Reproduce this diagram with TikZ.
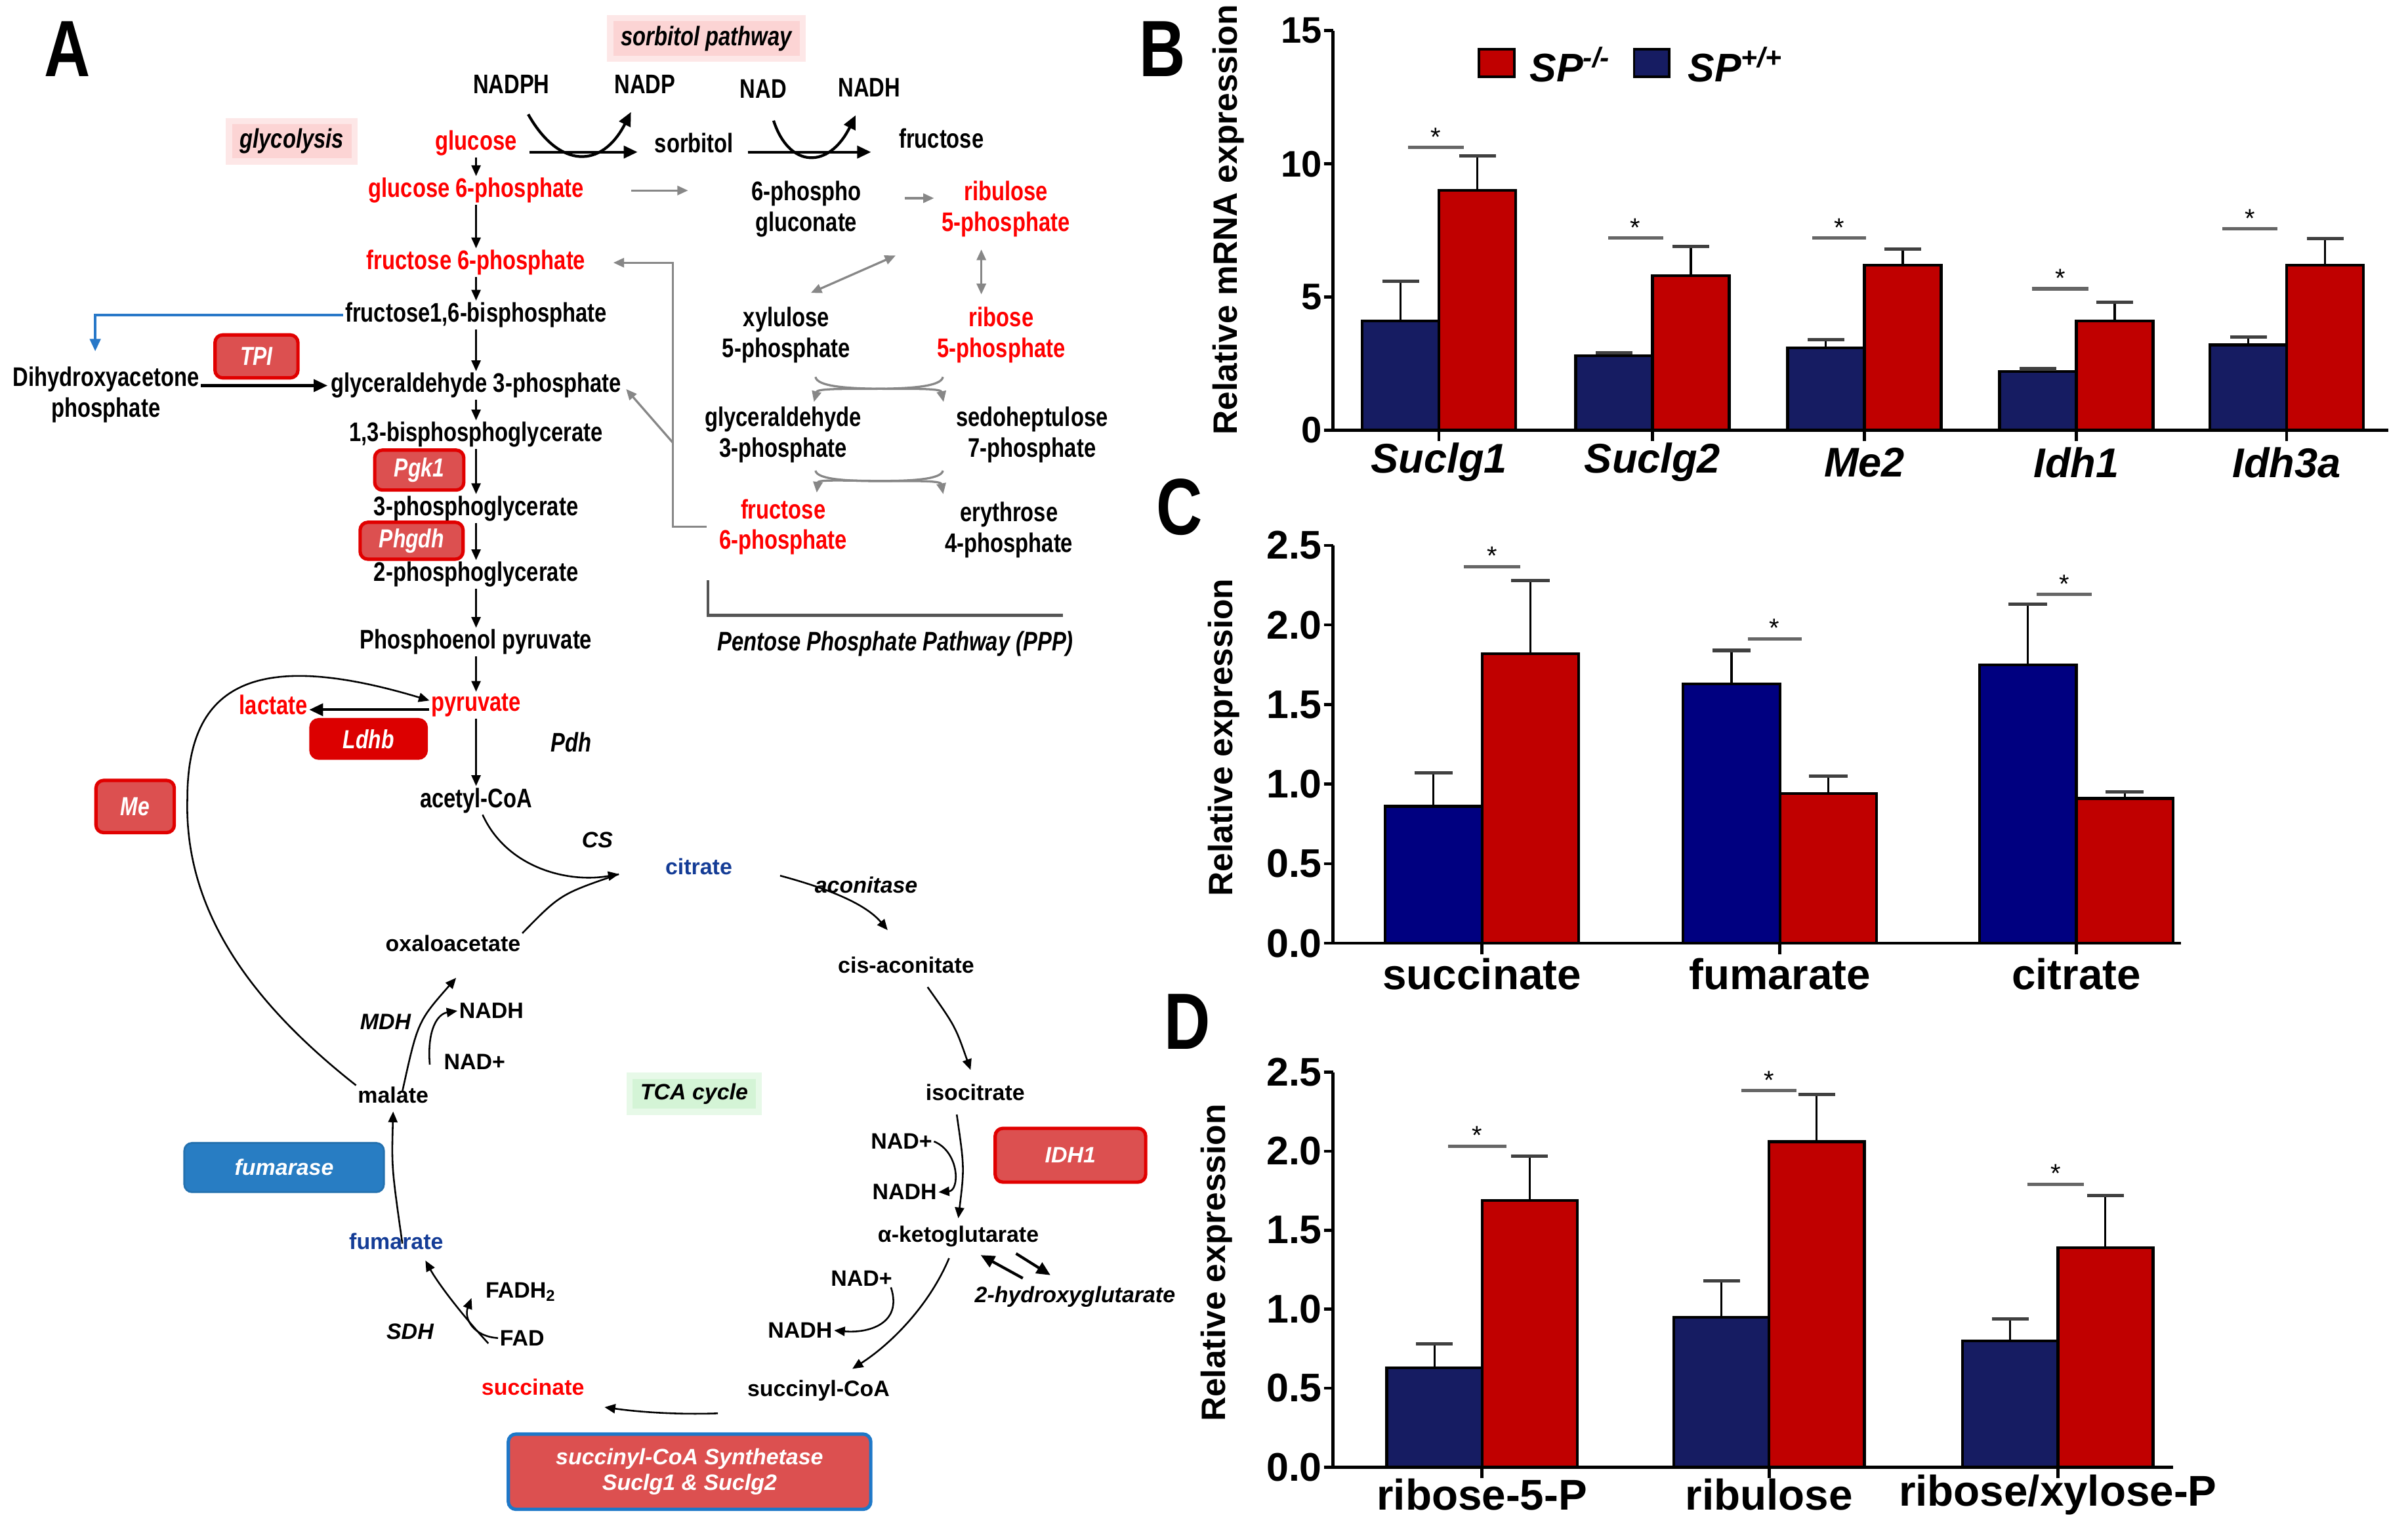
\documentclass[tikz,border=0pt]{standalone}
\usepackage{fontspec}
\setmainfont{Liberation Sans}
\newfontfamily\narrowsans[FakeStretch=0.8]{Liberation Sans}
\usetikzlibrary{positioning,arrows.meta}
\definecolor{metred}{RGB}{255,0,0}
\definecolor{metblue}{RGB}{20,60,150}
\definecolor{enzfill}{RGB}{220,80,80}
\definecolor{enzline}{RGB}{225,0,0}
\definecolor{ldhfill}{RGB}{220,0,0}
\definecolor{fumfill}{RGB}{40,125,195}
\definecolor{sucline}{RGB}{30,120,200}
\definecolor{arrblue}{RGB}{40,120,200}
\definecolor{pppgray}{RGB}{135,135,135}
\definecolor{brgray}{RGB}{85,85,85}
\definecolor{glowpink}{RGB}{252,212,212}
\definecolor{glowgreen}{RGB}{212,244,214}
\definecolor{barred}{RGB}{192,0,0}
\definecolor{barblue}{RGB}{0,0,128}
\definecolor{barnavy}{RGB}{22,28,98}

\begin{document}
\begin{tikzpicture}[x=1pt, y=-1pt, on grid,
  met/.style={font=\narrowsans\bfseries\fontsize{17.5}{20}\selectfont, inner sep=1pt, align=center},
  redmet/.style={met, text=metred},
  tca/.style={font=\bfseries\fontsize{14.5}{17}\selectfont, inner sep=1pt},
  bluetca/.style={tca, text=metblue},
  redtca/.style={tca, text=metred},
  enzlbl/.style={font=\bfseries\itshape\fontsize{14.5}{17}\selectfont, inner sep=1pt},
  pathlbl/.style={font=\narrowsans\bfseries\itshape\fontsize{17.5}{20}\selectfont, inner sep=1pt},
  glowbox/.style={fill=glowpink, draw=glowpink!55, line width=4pt, inner xsep=7pt, inner ysep=5pt},
  enzbox/.style={font=\narrowsans\bfseries\itshape\fontsize{17}{20}\selectfont, text=white, fill=enzfill, draw=enzline, line width=2.2pt, rounded corners=5pt, inner sep=0pt},
  bigbox/.style={enzbox, font=\bfseries\itshape\fontsize{14.5}{17}\selectfont, align=center},
  rxn/.style={-{Triangle[length=7pt,width=6pt]}, line width=1.1pt},
  rxnbold/.style={-{Triangle[length=9pt,width=8pt]}, line width=1.8pt},
  pparr/.style={-{Triangle[length=7pt,width=6pt]}, line width=1.4pt, draw=pppgray},
  ppboth/.style={pparr, {Triangle[length=7pt,width=6pt]}-{Triangle[length=7pt,width=6pt]}},
  bluearr/.style={-{Triangle[length=8pt,width=7pt]}, line width=1.5pt, draw=arrblue},
  panel/.style={font=\narrowsans\bfseries\fontsize{52}{52}\selectfont, inner sep=0pt},
  axisl/.style={line width=2pt},
  bluebar/.style={fill=barnavy, draw=black, line width=1.8pt},
  bluebarC/.style={fill=barblue, draw=black, line width=1.8pt},
  redbar/.style={fill=barred, draw=black, line width=1.8pt},
  errbar/.style={line width=1.3pt},
  errcap/.style={line width=2.2pt, draw=black!75},
  sigline/.style={line width=2.2pt, draw=black!60},
  star/.style={font=\fontsize{17}{17}\selectfont, inner sep=0pt},
  ticklbl/.style={font=\bfseries\fontsize{24}{24}\selectfont, anchor=east, inner sep=1pt},
  ticklblC/.style={ticklbl, font=\bfseries\fontsize{26}{26}\selectfont},
  axtitle/.style={font=\bfseries\fontsize{22}{22}\selectfont, rotate=90, inner sep=0pt},
  catB/.style={font=\bfseries\itshape\fontsize{27}{27}\selectfont, inner sep=0pt},
  catC/.style={font=\bfseries\fontsize{28}{28}\selectfont, inner sep=0pt},
  legtxt/.style={font=\bfseries\itshape\fontsize{26}{26}\selectfont, anchor=west, inner sep=0pt}]
\useasboundingbox (0,0) rectangle (1568,993);

\node(panelA) [panel] at (44,32) {A};
\node(sorbpath) [pathlbl, glowbox] at (460,25) {sorbitol pathway};
\node(glyco)    [pathlbl, glowbox] at (190,92) {glycolysis};
\node(nadph) [met] at (333,55) {NADPH};
\node(nadp)  [met] at (420,55) {NADP};
\node(nad)   [met] at (497,58) {NAD};
\node(nadh)  [met] at (566,57) {NADH};
\node(sorbitol) [met] at (452,93) {sorbitol};
\node(fructose) [met] at (613,90) {fructose};

\node(glucose) [redmet] at (310,93) {glucose};
\node(g6p)   [redmet, below=31pt of glucose] {glucose 6-phosphate};
\node(f6p)   [redmet, below=47pt of g6p] {fructose 6-phosphate};
\node(f16bp) [met, below=34pt of f6p] {fructose1,6-bisphosphate};
\node(g3p)   [met, below=46pt of f16bp] {glyceraldehyde 3-phosphate};
\node(bpg)   [met, below=32pt of g3p] {1,3-bisphosphoglycerate};
\node(pg3)   [met, below=48pt of bpg] {3-phosphoglycerate};
\node(pg2)   [met, below=43pt of pg3] {2-phosphoglycerate};
\node(pep)   [met, below=44pt of pg2] {Phosphoenol pyruvate};
\node(pyr)   [redmet, below=41pt of pep] {pyruvate};
\node(acoa)  [met, below=62pt of pyr] {acetyl-CoA};
\node(lactate) [redmet, left=132pt of pyr] {lactate};
\node(dhap)  [met] at (69,257) {Dihydroxyacetone\\phosphate};

\node(tpi)   [enzbox, minimum width=54pt, minimum height=28pt] at (167,232) {TPI};
\node(pgk)   [enzbox, minimum width=58pt, minimum height=26pt] at (273,306) {Pgk1};
\node(phgdh) [enzbox, minimum width=67pt, minimum height=24pt] at (268,352) {Phgdh};
\node(ldhb)  [enzbox, fill=ldhfill, draw=ldhfill, minimum width=75pt, minimum height=25pt] at (240,481) {Ldhb};
\node(me)    [enzbox, minimum width=51pt, minimum height=34pt] at (88,525) {Me};
\node(pdh)   [pathlbl] at (372,483) {Pdh};

\node(pgluc) [met] at (525,136) {6-phospho\\gluconate};
\node(ru5p)  [redmet] at (655,136) {ribulose\\5-phosphate};
\node(xu5p)  [met] at (512,218) {xylulose\\5-phosphate};
\node(r5p)   [redmet] at (652,218) {ribose\\5-phosphate};
\node(g3pb)  [met] at (510,283) {glyceraldehyde\\3-phosphate};
\node(s7p)   [met] at (672,283) {sedoheptulose\\7-phosphate};
\node(f6pb)  [redmet] at (510,343) {fructose\\6-phosphate};
\node(e4p)   [met] at (657,345) {erythrose\\4-phosphate};
\node(pppname) [pathlbl] at (583,419) {Pentose Phosphate Pathway (PPP)};
\coordinate(pppx) at (438,0);
\coordinate(pppbr) at (438,288);

\node(citrate) [bluetca] at (455,564) {citrate};
\node(oaa)     [tca] at (295,614) {oxaloacetate};
\node(cisacon) [tca] at (590,628) {cis-aconitate};
\node(isocit)  [tca] at (635,711) {isocitrate};
\node(akg)     [tca] at (624,805) {α-ketoglutarate};
\node(hg2)     [enzlbl] at (700,844) {2-hydroxyglutarate};
\node(succoa)  [tca] at (533,905) {succinyl-CoA};
\node(succ)    [redtca] at (347,903) {succinate};
\node(fum)     [bluetca] at (258,808) {fumarate};
\node(mal)     [tca] at (256,713) {malate};
\node(nadA)  [tca] at (587,743) {NAD+};
\node(nadhA) [tca] at (589,776) {NADH};
\node(nadB)  [tca] at (561,832) {NAD+};
\node(nadhB) [tca] at (521,866) {NADH};
\node(fadh)  [tca] at (339,841) {FADH\textsubscript{2}};
\node(fad)   [tca] at (340,871) {FAD};
\node(nadhC) [tca] at (320,658) {NADH};
\node(nadC)  [tca] at (309,691) {NAD+};
\node(cs)     [enzlbl] at (389,547) {CS};
\node(aconit) [enzlbl] at (564,576) {aconitase};
\node(mdh)    [enzlbl] at (251,665) {MDH};
\node(sdh)    [enzlbl] at (267,867) {SDH};
\node(tcacyc) [enzlbl, glowbox, fill=glowgreen, draw=glowgreen!55] at (452,712) {TCA cycle};
\node(idh)    [bigbox, minimum width=98pt, minimum height=35pt] at (697,752) {IDH1};
\node(fumarase) [bigbox, fill=fumfill, draw=fumfill!90!black, line width=1.2pt, minimum width=130pt, minimum height=32pt] at (185,760) {fumarase};
\node(sucsyn) [bigbox, draw=sucline, minimum width=236pt, minimum height=49pt] at (449,958) {succinyl-CoA Synthetase\\Suclg1 \& Suclg2};
\coordinate(csin) at (403,569);

\draw[rxnbold, shorten <=7pt, shorten >=10pt] ([yshift=-6pt]glucose.east) -- ([yshift=-6pt]glucose.east -| sorbitol.west);
\draw[rxnbold, shorten <=8pt, shorten >=17pt] ([yshift=-6pt]sorbitol.east) -- ([yshift=-6pt]sorbitol.east -| fructose.west);
\draw[rxnbold, shorten <=14pt, shorten >=12pt] (nadph) .. controls (364,110) and (392,110) .. (nadp);
\draw[rxnbold, shorten <=14pt, shorten >=12pt] (nad) .. controls (514,110) and (540,110) .. (nadh);
\draw[rxn](glucose) -- (g6p);
\draw[rxn](g6p) -- (f6p);
\draw[rxn](f6p) -- (f16bp);
\draw[rxn](f16bp) -- (g3p);
\draw[rxn](g3p) -- (bpg);
\draw[rxn](bpg) -- (pg3);
\draw[rxn](pg3) -- (pg2);
\draw[rxn](pg2) -- (pep);
\draw[rxn](pep) -- (pyr);
\draw[rxn](pyr) -- (acoa);
\draw[rxnbold]([yshift=-3pt]pyr.west) -- ([yshift=-3pt]pyr.west -| lactate.east);
\draw[rxn](mal.north west) .. controls (160,650) and (120,590) .. (122,520) .. controls (122,450) and (160,420) .. ([yshift=3pt]pyr.west);
\draw[bluearr](f16bp.west) -| ([xshift=-7pt,yshift=9pt]dhap.north);
\draw[rxnbold, shorten >=1pt](dhap.east |- g3p.west) -- (g3p.west);

\draw[pparr, shorten <=30pt, shorten >=40pt] (g6p.east) -- (g6p.east -| pgluc.west);
\draw[pparr, shorten <=27pt, shorten >=4pt] ([yshift=7pt]pgluc.east) -- ([yshift=7pt]pgluc.east -| ru5p.west);
\draw[ppboth] ([shift={(-29pt,-11pt)}]ru5p.south west) -- ([shift={(16pt,8pt)}]xu5p.north);
\draw[ppboth] ([xshift=-16pt,yshift=-7pt]ru5p.south) -- ([xshift=-13pt,yshift=7pt]r5p.north);
\draw[pparr] ([xshift=19pt,yshift=-8pt]xu5p.south) .. controls (533,258) and (612,250) .. ([xshift=-7pt,yshift=2pt]s7p.north west);
\draw[pparr] ([xshift=-38pt,yshift=-8pt]r5p.south) .. controls (612,258) and (533,250) .. ([xshift=20pt,yshift=2pt]g3pb.north);
\draw[pparr] ([xshift=21pt,yshift=-4pt]g3pb.south) .. controls (533,318) and (612,310) .. ([yshift=4pt]e4p.north west);
\draw[pparr] ([xshift=-58pt,yshift=-4pt]s7p.south) .. controls (612,318) and (533,310) .. ([xshift=-21pt,yshift=3pt]f6pb.north east);
\draw[pparr, shorten >=17pt] ([xshift=-7pt]f6pb.west) -| (pppx |- f6p.east) -- (f6p.east);
\draw[pparr, shorten >=3pt] (pppbr) -- (g3p.east);
\draw[line width=2pt, draw=brgray] ([xshift=-122pt,yshift=32pt]pppname.north) |- ([xshift=109pt,yshift=9pt]pppname.north);

\draw[rxn](acoa) .. controls (330,565) and (370,575) .. (csin);
\draw[line width=1.1pt](oaa.north east) .. controls (365,582) .. (csin);
\draw[rxn]([xshift=30pt,yshift=-6pt]citrate.east) .. controls (545,580) and (565,590) .. ([xshift=-12pt,yshift=16pt]cisacon.north);
\draw[rxn]([xshift=14pt,yshift=-8pt]cisacon.south) .. controls (622,668) .. ([xshift=-3pt,yshift=8pt]isocit.north);
\draw[rxn]([xshift=-12pt,yshift=-8pt]isocit.south) .. controls (628,760) .. ([yshift=4pt]akg.north);
\draw[rxn](nadA.east) .. controls (625,750) and (625,775) .. (nadhA.east);
\draw[rxn]([xshift=-6pt,yshift=-6pt]akg.south) .. controls (605,850) and (580,875) .. ([xshift=22pt,yshift=6pt]succoa.north);
\draw[rxn]([xshift=-2pt,yshift=-6pt]nadB.east) .. controls (588,862) and (565,868) .. (nadhB.east);
\draw[rxnbold]([shift={(-34pt,4pt)}]hg2.north) -- ([shift={(-39pt,-4pt)}]akg.south east);
\draw[rxnbold]([shift={(-16pt,-3pt)}]akg.south east) -- ([shift={(-16pt,6pt)}]hg2.north);
\draw[rxn]([xshift=-18pt,yshift=-15pt]succoa.west) .. controls (440,921) and (415,919) .. ([xshift=12pt,yshift=-13pt]succ.east);
\draw[rxn]([xshift=-29pt,yshift=22pt]succ.north) .. controls (300,855) and (285,835) .. ([xshift=19pt,yshift=-6pt]fum.south);
\draw[rxn](fad.west) .. controls (308,870) and (302,858) .. ([xshift=-8pt,yshift=-4pt]fadh.west);
\draw[rxn]([xshift=4pt,yshift=-8pt]fum.north) .. controls (255,760) .. ([yshift=-4pt]mal.south);
\draw[rxn]([xshift=6pt,yshift=-4pt]mal.north) .. controls (272,665) .. ([xshift=2pt,yshift=-16pt]oaa.south);
\draw[rxn]([xshift=-8pt,yshift=-2pt]nadC.west) .. controls (278,670) and (285,660) .. (nadhC.west);

\node(panelB) [panel] at (757,32) {B};
\node(ytitB) [axtitle] at (800,143) {Relative mRNA expression};
\draw[axisl] (868,20) -- (868,280) -- (1555,280);
\foreach \v/\y in {15/20,10/106.7,5/193.3,0/280} {
  \draw[axisl] (862,\y) -- (868,\y);
  \node(tickB\v) [ticklbl] at (862,\y) {\v};
}
\foreach \x/\b/\be/\r/\re in {937/4.1/5.6/9.0/10.3,1076/2.8/2.9/5.8/6.9,1214/3.1/3.4/6.2/6.8,1352/2.2/2.3/4.1/4.8,1489/3.2/3.5/6.2/7.2} {
  \draw[bluebar] ({\x-50},280) rectangle (\x,{280-\b*17.33});
  \draw[redbar] (\x,280) rectangle ({\x+50},{280-\r*17.33});
  \draw[errbar] ({\x-25},{280-\b*17.33}) -- ({\x-25},{280-\be*17.33});
  \draw[errcap] ({\x-37},{280-\be*17.33}) -- ({\x-13},{280-\be*17.33});
  \draw[errbar] ({\x+25},{280-\r*17.33}) -- ({\x+25},{280-\re*17.33});
  \draw[errcap] ({\x+13},{280-\re*17.33}) -- ({\x+37},{280-\re*17.33});
  \draw[axisl] (\x,280) -- (\x,287);
}
\foreach \x/\n [count=\i] in {937/Suclg1,1076/Suclg2,1214/Me2,1352/Idh1,1489/Idh3a}
  \node(catB\i) [catB] at (\x,301) {\n};
\foreach \xa/\xb/\y [count=\i] in {917/953/96,1047/1083/155,1180/1215/155,1323/1360/188,1447/1483/149} {
  \draw[sigline] (\xa,\y) -- (\xb,\y);
  \node(starB\i) [star] at ({(\xa+\xb)/2},{\y-7}) {*};
}
\draw[redbar, line width=1.5pt] (963,32) rectangle (986,50);
\node(legKO) [legtxt] at (996,42) {SP\textsuperscript{-/-}};
\draw[bluebar, line width=1.5pt] (1064,32) rectangle (1087,50);
\node(legWT) [legtxt] at (1099,42) {SP\textsuperscript{+/+}};

\node(panelC) [panel] at (768,330) {C};
\node(ytitC) [axtitle] at (797,480) {Relative expression};
\draw[axisl] (868,355) -- (868,614) -- (1420,614);
\foreach \v [count=\i] in {0.0,0.5,1.0,1.5,2.0,2.5} {
  \draw[axisl] (862,{614-\v*103.6}) -- (868,{614-\v*103.6});
  \node(tickC\i) [ticklblC] at (862,{614-\v*103.6}) {\v};
}
\foreach \x/\b/\be/\r/\re in {965/0.86/1.07/1.82/2.28,1159/1.63/1.84/0.94/1.05,1352/1.75/2.13/0.91/0.95} {
  \draw[bluebarC] ({\x-63},614) rectangle (\x,{614-\b*103.6});
  \draw[redbar] (\x,614) rectangle ({\x+63},{614-\r*103.6});
  \draw[errbar] ({\x-31.5},{614-\b*103.6}) -- ({\x-31.5},{614-\be*103.6});
  \draw[errcap] ({\x-44},{614-\be*103.6}) -- ({\x-19},{614-\be*103.6});
  \draw[errbar] ({\x+31.5},{614-\r*103.6}) -- ({\x+31.5},{614-\re*103.6});
  \draw[errcap] ({\x+19},{614-\re*103.6}) -- ({\x+44},{614-\re*103.6});
  \draw[axisl] (\x,614) -- (\x,621);
}
\foreach \x/\n [count=\i] in {965/succinate,1159/fumarate,1352/citrate}
  \node(catC\i) [catC] at (\x,634) {\n};
\foreach \xa/\xb/\y [count=\i] in {953/990/369,1138/1173/416,1326/1362/387} {
  \draw[sigline] (\xa,\y) -- (\xb,\y);
  \node(starC\i) [star] at ({(\xa+\xb)/2},{\y-7}) {*};
}

\node(panelD) [panel] at (773,665) {D};
\node(ytitD) [axtitle] at (792,822) {Relative expression};
\draw[axisl] (868,698) -- (868,955) -- (1415,955);
\foreach \v [count=\i] in {0.0,0.5,1.0,1.5,2.0,2.5} {
  \draw[axisl] (862,{955-\v*102.8}) -- (868,{955-\v*102.8});
  \node(tickD\i) [ticklblC] at (862,{955-\v*102.8}) {\v};
}
\foreach \x/\b/\be/\r/\re in {965/0.63/0.78/1.69/1.97,1152/0.95/1.18/2.06/2.36,1340/0.80/0.94/1.39/1.72} {
  \draw[bluebar] ({\x-62},955) rectangle (\x,{955-\b*102.8});
  \draw[redbar] (\x,955) rectangle ({\x+62},{955-\r*102.8});
  \draw[errbar] ({\x-31},{955-\b*102.8}) -- ({\x-31},{955-\be*102.8});
  \draw[errcap] ({\x-43},{955-\be*102.8}) -- ({\x-19},{955-\be*102.8});
  \draw[errbar] ({\x+31},{955-\r*102.8}) -- ({\x+31},{955-\re*102.8});
  \draw[errcap] ({\x+19},{955-\re*102.8}) -- ({\x+43},{955-\re*102.8});
  \draw[axisl] (\x,955) -- (\x,962);
}
\foreach \x/\n [count=\i] in {965/ribose-5-P,1152/ribulose,1340/{ribose/xylose-P}}
  \node(catD\i) [catC] at (\x,973) {\n};
\foreach \xa/\xb/\y [count=\i] in {943/981/746,1134/1170/710,1320/1357/771} {
  \draw[sigline] (\xa,\y) -- (\xb,\y);
  \node(starD\i) [star] at ({(\xa+\xb)/2},{\y-7}) {*};
}
\end{tikzpicture}
\end{document}
